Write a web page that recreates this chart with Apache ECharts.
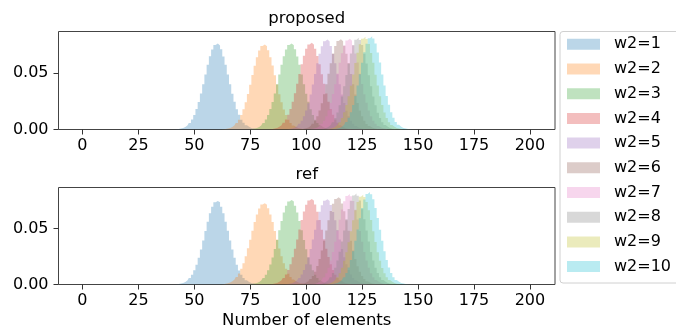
<!DOCTYPE html>
<html>
<head>
<meta charset="utf-8">
<script src="https://cdn.jsdelivr.net/npm/echarts@6/dist/echarts.min.js"></script>
<style>
  html, body { margin: 0; padding: 0; background: #fff; }
  #chart { width: 676px; height: 333px; }
</style>
</head>
<body>
<div id="chart"></div>
<script>
// legend names and tab10 colours
var names = ['w2=1', 'w2=2', 'w2=3', 'w2=4', 'w2=5', 'w2=6', 'w2=7', 'w2=8', 'w2=9', 'w2=10'];
var colors = ['#1f77b4', '#ff7f0e', '#2ca02c', '#d62728', '#9467bd', '#8c564b', '#e377c2', '#7f7f7f', '#bcbd22', '#17becf'];
var xTicks = [0, 25, 50, 75, 100, 125, 150, 175, 200];
var yTicks = [0, 0.05];

// first bin (number of elements) of each histogram
var proposedStart = [40, 63, 75, 84, 92, 98, 102, 106, 109, 112];
var refStart = [42, 63, 75, 84, 91, 97, 102, 105, 108, 111];

// density per bin (bin width 1)
var proposedHist = [
  [.0001,.0001,.0002,.0004,.0008,.0014,.0023,.0037,.0058,.0088,.0128,.0180,.0243,.0317,.0399,.0486,.0570,.0646,.0706,.0744,.0758,.0741,.0707,.0644,.0571,.0484,.0400,.0315,.0244,.0179,.0129,.0087,.0059,.0037,.0024,.0013,.0008,.0004,.0002],
  [.0002,.0004,.0008,.0013,.0023,.0037,.0058,.0087,.0127,.0178,.0240,.0313,.0395,.0480,.0563,.0638,.0697,.0736,.0749,.0734,.0699,.0636,.0565,.0478,.0396,.0311,.0241,.0177,.0127,.0087,.0058,.0036,.0023,.0013,.0008,.0004,.0002],
  [.0002,.0004,.0008,.0014,.0023,.0037,.0058,.0088,.0128,.0180,.0243,.0317,.0399,.0486,.0570,.0646,.0706,.0744,.0758,.0742,.0707,.0643,.0571,.0484,.0400,.0315,.0244,.0179,.0128,.0087,.0058,.0037,.0023,.0013,.0008,.0004,.0002],
  [.0002,.0004,.0008,.0014,.0024,.0037,.0059,.0089,.0129,.0181,.0244,.0319,.0403,.0490,.0575,.0651,.0711,.0750,.0764,.0748,.0713,.0649,.0576,.0488,.0404,.0318,.0245,.0180,.0129,.0088,.0059,.0037,.0023,.0014,.0008,.0004,.0002],
  [.0003,.0006,.0010,.0018,.0031,.0050,.0078,.0116,.0167,.0232,.0309,.0397,.0490,.0583,.0667,.0734,.0778,.0793,.0776,.0736,.0665,.0585,.0488,.0398,.0308,.0233,.0166,.0116,.0077,.0050,.0030,.0018,.0010,.0006,.0003],
  [.0003,.0006,.0010,.0018,.0031,.0050,.0078,.0116,.0168,.0232,.0310,.0398,.0491,.0584,.0669,.0736,.0780,.0795,.0778,.0738,.0667,.0586,.0489,.0399,.0309,.0233,.0167,.0116,.0078,.0049,.0031,.0018,.0010,.0006,.0003],
  [.0003,.0006,.0011,.0018,.0031,.0050,.0078,.0117,.0169,.0234,.0312,.0400,.0494,.0588,.0673,.0741,.0785,.0800,.0783,.0743,.0671,.0590,.0492,.0401,.0311,.0235,.0168,.0117,.0078,.0050,.0031,.0018,.0011,.0006,.0003],
  [.0002,.0004,.0007,.0014,.0024,.0040,.0065,.0101,.0149,.0213,.0291,.0381,.0480,.0579,.0670,.0743,.0791,.0808,.0789,.0745,.0668,.0581,.0478,.0382,.0290,.0214,.0148,.0101,.0064,.0040,.0024,.0014,.0007,.0004,.0002],
  [.0002,.0004,.0008,.0014,.0024,.0041,.0065,.0102,.0151,.0216,.0294,.0386,.0485,.0586,.0677,.0752,.0800,.0817,.0798,.0754,.0675,.0588,.0483,.0387,.0293,.0217,.0150,.0102,.0065,.0040,.0024,.0014,.0008,.0004,.0002],
  [.0002,.0004,.0008,.0014,.0024,.0041,.0066,.0103,.0152,.0217,.0296,.0388,.0488,.0589,.0681,.0756,.0805,.0822,.0803,.0758,.0679,.0591,.0486,.0389,.0295,.0218,.0151,.0103,.0066,.0041,.0024,.0014,.0008,.0004,.0002,.0001]
];
var refHist = [
  [.0002,.0004,.0008,.0013,.0023,.0037,.0058,.0087,.0127,.0178,.0240,.0313,.0395,.0480,.0563,.0638,.0697,.0736,.0749,.0737,.0696,.0639,.0562,.0481,.0394,.0314,.0239,.0178,.0126,.0087,.0058,.0037,.0023,.0013,.0008,.0004,.0002],
  [.0003,.0006,.0011,.0018,.0029,.0045,.0067,.0098,.0140,.0191,.0253,.0324,.0402,.0481,.0559,.0628,.0681,.0716,.0728,.0714,.0683,.0626,.0560,.0480,.0403,.0323,.0254,.0190,.0140,.0097,.0067,.0044,.0029,.0018,.0011,.0006,.0003],
  [.0002,.0004,.0008,.0014,.0023,.0037,.0058,.0088,.0128,.0180,.0243,.0317,.0399,.0486,.0570,.0646,.0706,.0744,.0758,.0743,.0705,.0645,.0569,.0487,.0398,.0316,.0243,.0180,.0127,.0088,.0058,.0036,.0023,.0014,.0008,.0004,.0002],
  [.0002,.0004,.0008,.0014,.0024,.0038,.0059,.0089,.0130,.0182,.0245,.0321,.0404,.0492,.0577,.0653,.0714,.0753,.0767,.0751,.0716,.0651,.0578,.0490,.0405,.0320,.0246,.0181,.0130,.0088,.0059,.0038,.0024,.0014,.0008,.0004,.0002],
  [.0002,.0004,.0008,.0014,.0024,.0037,.0059,.0089,.0129,.0181,.0244,.0319,.0403,.0490,.0575,.0651,.0711,.0750,.0764,.0749,.0712,.0650,.0575,.0489,.0403,.0319,.0244,.0181,.0129,.0089,.0058,.0037,.0024,.0014,.0008,.0004,.0002],
  [.0003,.0006,.0010,.0018,.0030,.0049,.0077,.0114,.0165,.0228,.0305,.0391,.0483,.0575,.0658,.0724,.0767,.0782,.0766,.0725,.0657,.0576,.0482,.0392,.0304,.0229,.0164,.0114,.0077,.0049,.0030,.0018,.0010,.0006,.0003],
  [.0002,.0004,.0007,.0014,.0024,.0041,.0065,.0101,.0150,.0214,.0292,.0382,.0481,.0581,.0671,.0745,.0793,.0810,.0791,.0747,.0670,.0583,.0480,.0383,.0291,.0215,.0149,.0101,.0065,.0040,.0024,.0014,.0007,.0004,.0002],
  [.0002,.0004,.0007,.0014,.0024,.0041,.0065,.0102,.0151,.0215,.0293,.0385,.0484,.0584,.0676,.0750,.0798,.0815,.0796,.0752,.0675,.0585,.0483,.0386,.0292,.0216,.0150,.0102,.0065,.0041,.0024,.0014,.0007,.0004,.0002],
  [.0002,.0004,.0007,.0014,.0024,.0040,.0064,.0100,.0149,.0212,.0289,.0379,.0477,.0576,.0666,.0739,.0786,.0803,.0785,.0740,.0665,.0577,.0476,.0380,.0288,.0213,.0148,.0100,.0064,.0040,.0024,.0014,.0007,.0004,.0002],
  [.0002,.0004,.0008,.0014,.0025,.0041,.0066,.0104,.0153,.0219,.0298,.0391,.0492,.0594,.0686,.0762,.0811,.0828,.0809,.0764,.0685,.0595,.0491,.0392,.0297,.0220,.0152,.0104,.0066,.0041,.0025,.0014,.0008,.0004,.0002,.0001]
];

var FONT = 'DejaVu Sans';

function fill(hex) {
  var r = parseInt(hex.slice(1, 3), 16), g = parseInt(hex.slice(3, 5), 16), b = parseInt(hex.slice(5, 7), 16);
  return 'rgba(' + r + ',' + g + ',' + b + ',0.3)';
}

// each histogram as a filled step line (bins centred on integers)
function histSeries(starts, hists, ax) {
  return hists.map(function (h, k) {
    var pts = [[starts[k] - 1, 0]];
    h.forEach(function (v, i) { pts.push([starts[k] + i, v]); });
    pts.push([starts[k] + h.length, 0]);
    return {
      type: 'line', name: names[k], xAxisIndex: ax, yAxisIndex: ax,
      step: 'middle', symbol: 'none', silent: true,
      lineStyle: { width: 0, opacity: 0 },
      itemStyle: { color: fill(colors[k]) },
      areaStyle: { color: fill(colors[k]), opacity: 1 },
      data: pts
    };
  });
}

function xAxisOf(idx, withName) {
  var ax = {
    type: 'value', gridIndex: idx, min: -10.7, max: 211.2, position: 'bottom',
    axisLine: { show: false, onZero: false },
    axisTick: { show: true, length: 5, lineStyle: { color: '#333', width: 1 }, customValues: xTicks },
    axisLabel: { fontFamily: FONT, fontSize: 16, color: '#000', margin: 8, customValues: xTicks },
    splitLine: { show: false }
  };
  if (withName) {
    ax.name = 'Number of elements';
    ax.nameLocation = 'middle';
    ax.nameGap = 28;
    ax.nameTextStyle = { fontFamily: FONT, fontSize: 16.5, color: '#000' };
  }
  return ax;
}

function yAxisOf(idx, max) {
  return {
    type: 'value', gridIndex: idx, min: 0, max: max, position: 'left',
    axisLine: { show: false, onZero: false },
    axisTick: { show: true, length: 5, lineStyle: { color: '#333', width: 1 }, customValues: yTicks },
    axisLabel: { fontFamily: FONT, fontSize: 16, color: '#000', margin: 10, customValues: yTicks,
      formatter: function (v) { return v.toFixed(2); } },
    splitLine: { show: false }
  };
}

var chart = echarts.init(document.getElementById('chart'), null, { renderer: 'canvas' });

chart.setOption({
  animation: false,
  backgroundColor: '#fff',
  grid: [
    { left: 58.5, top: 31.5, width: 496.5, height: 98, show: true, borderColor: '#444', borderWidth: 1 },
    { left: 58.5, top: 187.5, width: 496.5, height: 97, show: true, borderColor: '#444', borderWidth: 1 }
  ],
  xAxis: [xAxisOf(0, false), xAxisOf(1, true)],
  yAxis: [yAxisOf(0, 0.0864), yAxisOf(1, 0.0869)],
  graphic: [
    { type: 'text', x: 306.75, y: 18.7, silent: true,
      style: { text: 'proposed', font: '16.5px "DejaVu Sans"', fill: '#000', textAlign: 'center', textVerticalAlign: 'middle' } },
    { type: 'text', x: 306.75, y: 174.5, silent: true,
      style: { text: 'ref', font: '16.5px "DejaVu Sans"', fill: '#000', textAlign: 'center', textVerticalAlign: 'middle' } }
  ],
  legend: {
    orient: 'vertical', left: 560, top: 31.5,
    padding: [4.8, 12, 8.4, 7],
    itemGap: 8.7, itemWidth: 33, itemHeight: 11,
    borderColor: '#d0d0d0', borderWidth: 1, borderRadius: 3,
    icon: 'rect',
    selectedMode: false,
    textStyle: { fontFamily: FONT, fontSize: 16, lineHeight: 16, color: '#000', padding: [0, 0, 0, 9] },
    data: names.map(function (n, k) {
      return { name: n, icon: 'rect', itemStyle: { color: fill(colors[k]), borderWidth: 0 } };
    })
  },
  series: histSeries(proposedStart, proposedHist, 0).concat(histSeries(refStart, refHist, 1))
});
</script>
</body>
</html>
